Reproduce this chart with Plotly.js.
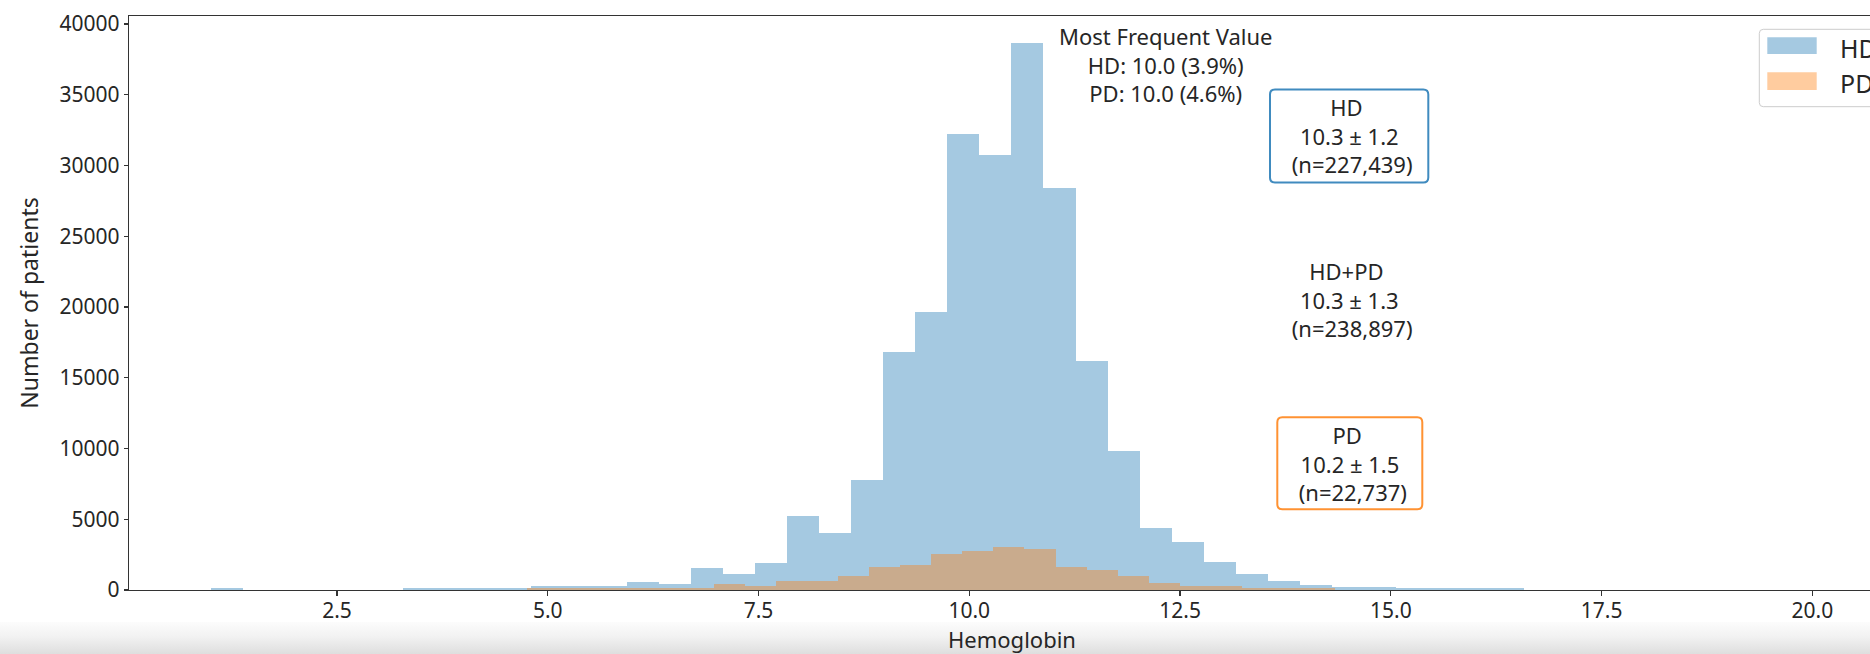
<!DOCTYPE html>
<html>
<head>
<meta charset="utf-8">
<script src="https://cdn.plot.ly/plotly-3.0.1.min.js"></script>
<style>
  html, body { margin: 0; padding: 0; overflow: hidden; background: #ffffff; width: 1870px; height: 654px; }
  #band { position: absolute; left: 0; top: 622px; width: 1870px; height: 32px;
          background: linear-gradient(to bottom, #fcfcfc 0%, #f2f2f2 45%, #dedede 100%); }
  #chart { position: absolute; left: 0; top: 0; width: 1900px; height: 654px; }
</style>
</head>
<body>
<div id="band"></div>
<div id="chart"></div>
<script>
// ---------------- data ----------------
const seriesNames = ['HD', 'PD'];

// HD histogram: 50 equal bins starting at hdBinStart
const hdBinStart = 1.0;
const hdBinWidth = 0.38;
const hdCounts = [150, 0, 0, 0, 0, 0, 160, 160, 160, 160,
                  290, 290, 290, 540, 400, 1530, 1150, 1885, 5250, 4000,
                  7740, 16800, 19670, 32230, 30740, 38680, 28390, 16180, 9850, 4380,
                  3370, 2000, 1150, 620, 350, 236, 190, 120, 120, 120,
                  120, 0, 0, 0, 0, 0, 0, 0, 0, 0];

// PD histogram: visible bins starting at pdBinStart
const pdBinStart = 4.758;
const pdBinWidth = 0.3685;
const pdCounts = [110, 120, 120, 130, 120, 130, 400, 285, 636, 636,
                  1000, 1650, 1770, 2520, 2780, 3015, 2920, 1650, 1413, 1013,
                  518, 306, 306, 118, 118, 118, 30];

const mostFrequentLines = ['Most Frequent Value', 'HD: 10.0 (3.9%)', 'PD: 10.0 (4.6%)'];
const hdStatLines  = ['HD\u00a0', '10.3 ± 1.2', '\u00a0(n=227,439)'];
const allStatLines = ['HD+PD\u00a0', '10.3 ± 1.3', '\u00a0(n=238,897)'];
const pdStatLines  = ['PD\u00a0', '10.2 ± 1.5', '\u00a0(n=22,737)'];

const xTitle = 'Hemoglobin';
const yTitle = 'Number of patients';

// ---------------- styling / layout ----------------
const FONT = 'Noto Sans, Open Sans, DejaVu Sans, sans-serif';
const TXT = '#262626';
const hdFill = 'rgba(31,119,180,0.4)';
const pdFill = 'rgba(255,127,14,0.4)';

const W = 1900, H = 654;
const M = { l: 129, r: 5, t: 16, b: 64 };
const xRange = [0.033, 20.98];
const yRange = [0, 40565];

// pixel -> data helpers (for decorations only)
const plotW = W - M.l - M.r, plotH = H - M.t - M.b;
function px2x(px) { return xRange[0] + (px - M.l) / plotW * (xRange[1] - xRange[0]); }
function px2y(py) { return yRange[0] + (H - M.b - py) / plotH * (yRange[1] - yRange[0]); }

function roundRect(x0, y0, x1, y1, r) {
  const X = px2x, Y = px2y;
  return 'M' + X(x0 + r) + ',' + Y(y0) +
    ' L' + X(x1 - r) + ',' + Y(y0) +
    ' Q' + X(x1) + ',' + Y(y0) + ' ' + X(x1) + ',' + Y(y0 + r) +
    ' L' + X(x1) + ',' + Y(y1 - r) +
    ' Q' + X(x1) + ',' + Y(y1) + ' ' + X(x1 - r) + ',' + Y(y1) +
    ' L' + X(x0 + r) + ',' + Y(y1) +
    ' Q' + X(x0) + ',' + Y(y1) + ' ' + X(x0) + ',' + Y(y1 - r) +
    ' L' + X(x0) + ',' + Y(y0 + r) +
    ' Q' + X(x0) + ',' + Y(y0) + ' ' + X(x0 + r) + ',' + Y(y0) + ' Z';
}

function centers(start, width, counts) {
  return counts.map((_, i) => start + (i + 0.5) * width);
}

const traces = [
  {
    type: 'bar', name: seriesNames[0],
    x: centers(hdBinStart, hdBinWidth, hdCounts), y: hdCounts, width: hdBinWidth,
    marker: { color: hdFill, line: { width: 0 } }
  },
  {
    type: 'bar', name: seriesNames[1],
    x: centers(pdBinStart, pdBinWidth, pdCounts), y: pdCounts, width: pdBinWidth,
    marker: { color: pdFill, line: { width: 0 } }
  }
];

const annotations = [];
function addBlock(lines, cxPx, cyPx, size) {
  annotations.push({
    xref: 'x', yref: 'y', x: px2x(cxPx), y: px2y(cyPx),
    text: lines.join('<br>'), showarrow: false, xanchor: 'center', yanchor: 'middle', align: 'center',
    font: { family: FONT, size: size, color: TXT }
  });
}
addBlock(mostFrequentLines, 1165.7, 64, 22);
addBlock(hdStatLines,  1349.5, 135, 22);
addBlock(allStatLines, 1349.5, 299, 22);
addBlock(pdStatLines,  1349.5, 463.3, 22);

const shapes = [
  { type: 'path', xref: 'x', yref: 'y', path: roundRect(1270, 89.5, 1428.3, 182.5, 5),
    line: { color: 'rgba(31,119,180,0.85)', width: 2 }, fillcolor: 'rgba(255,255,255,0)' },
  { type: 'path', xref: 'x', yref: 'y', path: roundRect(1277.3, 417.3, 1422.3, 509.3, 5),
    line: { color: 'rgba(255,127,14,0.85)', width: 2 }, fillcolor: 'rgba(255,255,255,0)' },
  // legend frame and patches
  { type: 'path', xref: 'x', yref: 'y', path: roundRect(1759.3, 29.3, 1888, 106.7, 4),
    line: { color: '#cccccc', width: 1 }, fillcolor: 'rgba(255,255,255,0.8)' },
  { type: 'rect', xref: 'x', yref: 'y', x0: px2x(1767.3), x1: px2x(1816.7), y0: px2y(54), y1: px2y(37.3),
    line: { width: 0 }, fillcolor: hdFill },
  { type: 'rect', xref: 'x', yref: 'y', x0: px2x(1767.3), x1: px2x(1816.7), y0: px2y(90), y1: px2y(72.3),
    line: { width: 0 }, fillcolor: pdFill }
];
annotations.push({ xref: 'x', yref: 'y', x: px2x(1838), y: px2y(47.5), text: seriesNames[0],
  showarrow: false, xanchor: 'left', yanchor: 'middle', font: { family: FONT, size: 25, color: TXT } });
annotations.push({ xref: 'x', yref: 'y', x: px2x(1838), y: px2y(82.5), text: seriesNames[1],
  showarrow: false, xanchor: 'left', yanchor: 'middle', font: { family: FONT, size: 25, color: TXT } });

const axisCommon = {
  ticks: 'outside', tickcolor: '#333333', tickwidth: 1.3,
  showline: true, mirror: true, linecolor: '#333333', linewidth: 1.3,
  showgrid: false, zeroline: false, automargin: false,
  tickfont: { family: FONT, size: 21, color: TXT }
};

const layout = {
  width: W, height: H,
  margin: { l: M.l, r: M.r, t: M.t, b: M.b, pad: 0 },
  paper_bgcolor: 'rgba(0,0,0,0)', plot_bgcolor: 'rgba(0,0,0,0)',
  barmode: 'overlay', bargap: 0,
  showlegend: false,
  font: { family: FONT, color: TXT },
  xaxis: Object.assign({}, axisCommon, {
    range: xRange, tick0: 0, dtick: 2.5, tickformat: '.1f', ticklen: 5, ticklabelstandoff: -4,
    title: { text: xTitle, font: { family: FONT, size: 22, color: TXT }, standoff: 11 }
  }),
  yaxis: Object.assign({}, axisCommon, {
    range: yRange, tick0: 0, dtick: 5000, tickformat: 'd', ticklen: 4,
    title: { text: yTitle, font: { family: FONT, size: 23, color: TXT }, standoff: 14 }
  }),
  annotations: annotations,
  shapes: shapes
};

Plotly.newPlot('chart', traces, layout, { displayModeBar: false, responsive: false, staticPlot: true });
</script>
</body>
</html>
